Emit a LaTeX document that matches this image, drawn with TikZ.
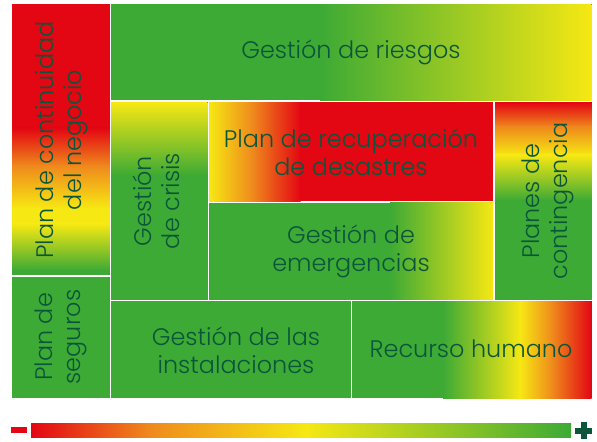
\documentclass[tikz,border=0pt]{standalone}
\usepackage{fontspec}
\setmainfont{Poppins Light}
\definecolor{gr}{HTML}{3DAA35}
\definecolor{ye}{HTML}{F6E813}
\definecolor{orc}{HTML}{EF8A1C}
\definecolor{rd}{HTML}{E30613}
\definecolor{txt}{HTML}{0B553A}
\tikzset{
  lbl/.style={text=txt, align=center, font=\fontsize{24}{28}\selectfont, inner sep=0pt},
  vlbl/.style={lbl, rotate=90}
}
\begin{document}
\begin{tikzpicture}[x=1bp,y=-1bp]
\useasboundingbox (0,0) rectangle (597,442);
\fill[white] (0,0) rectangle (597,442);
% A Plan de continuidad (12,4.5)-(109.5,275)
\fill[rd] (12,4.5) rectangle (109.5,128.5);
\fill[top color=rd,bottom color=orc] (12,128) rectangle (109.5,166.5);
\fill[top color=orc,bottom color=ye] (12,166) rectangle (109.5,208.5);
\fill[ye] (12,208) rectangle (109.5,224.5);
\fill[top color=ye,bottom color=gr] (12,224) rectangle (109.5,270.5);
\fill[gr] (12,270) rectangle (109.5,275);
% B Plan de seguros
\fill[gr] (12,277) rectangle (109.5,398);
% C Gestion de riesgos
\fill[gr] (111,4.5) rectangle (320.5,100.5);
\fill[left color=gr,right color=ye] (320,4.5) rectangle (591.5,100.5);
% D Gestion de crisis
\fill[top color=ye,bottom color=gr] (111,102.5) rectangle (207.5,175.5);
\fill[gr] (111,175) rectangle (207.5,299.5);
% E Plan de recuperacion
\fill[left color=ye,right color=orc] (209,102.5) rectangle (252.5,201.5);
\fill[left color=orc,right color=rd] (252,102.5) rectangle (300.5,201.5);
\fill[rd] (300,102.5) rectangle (493,201.5);
% F Gestion de emergencias
\fill[gr] (209,203) rectangle (390.5,299.5);
\fill[left color=gr,right color=ye] (390,203) rectangle (493,299.5);
% H Planes de contingencia
\fill[top color=rd,bottom color=orc] (495,102.5) rectangle (591.5,127.5);
\fill[top color=orc,bottom color=ye] (495,127) rectangle (591.5,155.5);
\fill[top color=ye,bottom color=gr] (495,155) rectangle (591.5,200.5);
\fill[gr] (495,200) rectangle (591.5,299.5);
% I Gestion de las instalaciones
\fill[gr] (111,301) rectangle (350.5,398);
% J Recurso humano
\fill[gr] (352,301) rectangle (443.5,398);
\fill[left color=gr,right color=ye] (443,301) rectangle (520.5,398);
\fill[left color=ye,right color=orc] (520,301) rectangle (552.5,398);
\fill[left color=orc,right color=rd] (552,301) rectangle (591.5,398);
% bottom scale bar
\fill[left color=rd,right color=orc] (31,423.7) rectangle (150.5,437);
\fill[left color=orc,right color=ye] (150,423.7) rectangle (305.5,437);
\fill[left color=ye,right color=gr] (305,423.7) rectangle (571,437);
\fill[rd] (11,427) rectangle (27,432.7);
\fill[txt] (580.5,422) rectangle (586.5,439);
\fill[txt] (575,427.5) rectangle (592,433.5);
% labels
\node[lbl] (tC) at (351,52) {Gestión de riesgos};
\node[lbl] (tE) at (351,152) {Plan de recuperación\\de desastres};
\node[lbl] (tF) at (351,251) {Gestión de\\emergencias};
\node[lbl] (tI) at (236,350) {Gestión de las\\instalaciones};
\node[lbl] (tJ) at (471,349) {Recurso humano};
\node[vlbl] (tA) at (62,140) {Plan de continuidad\\del negocio};
\node[vlbl] (tD) at (156,201) {Gestión\\de crisis};
\node[vlbl] (tH) at (548,201) {Planes de\\contingencia};
\node[vlbl] (tB) at (61,337) {Plan de\\seguros};
\end{tikzpicture}
\end{document}
